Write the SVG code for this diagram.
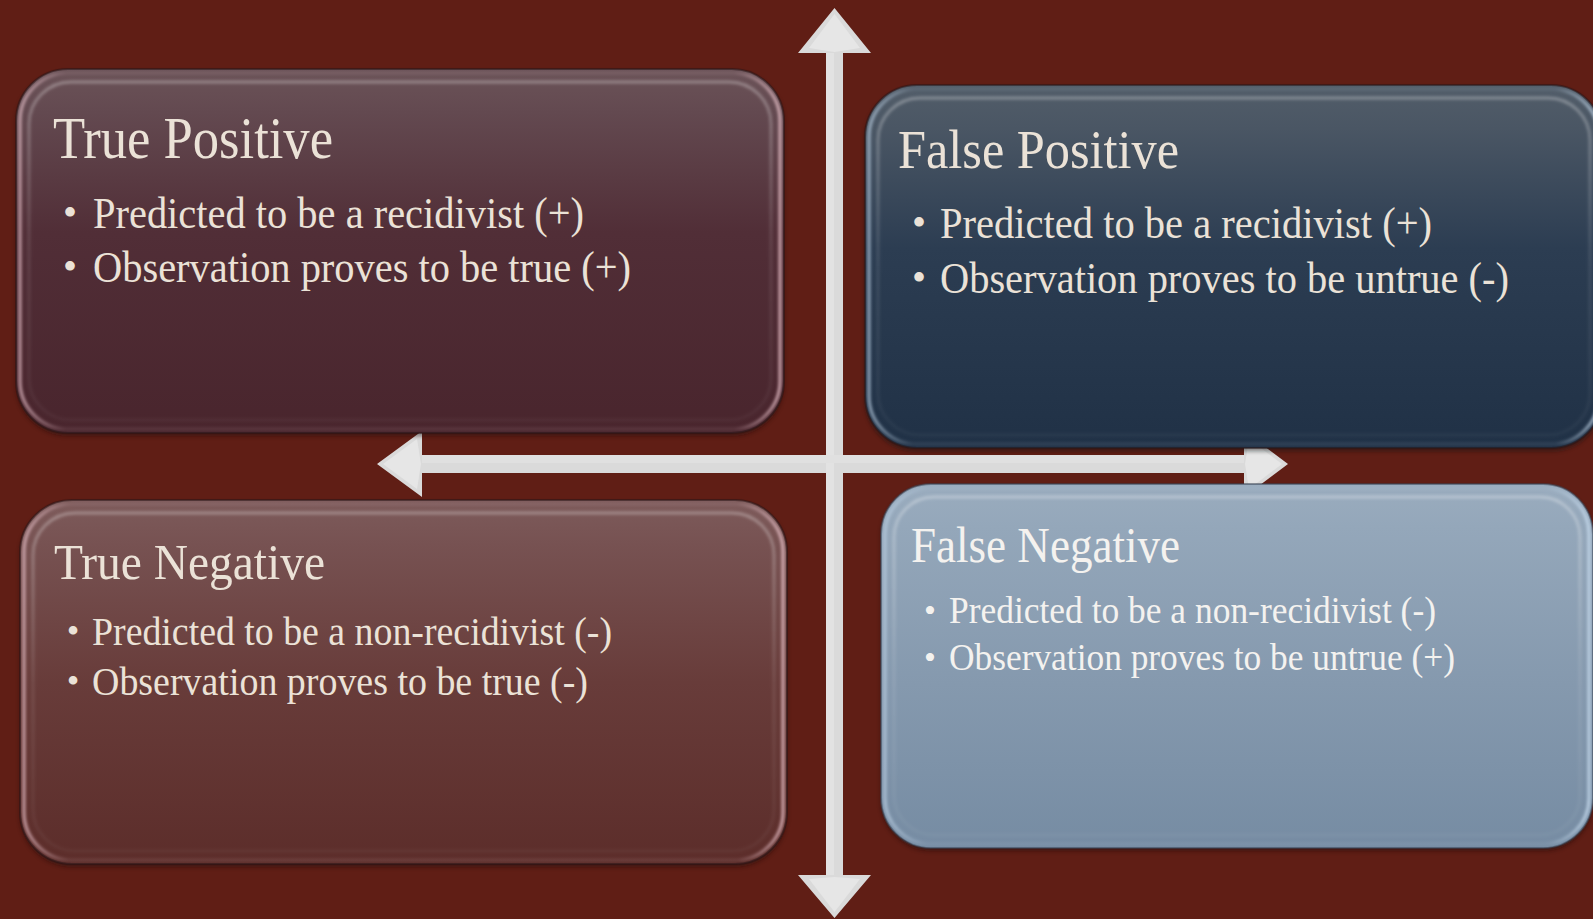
<svg xmlns="http://www.w3.org/2000/svg" width="1593" height="919" viewBox="0 0 1593 919">
<defs>
<style>
.ttl{font-family:"Liberation Serif","Times New Roman",serif;}
.txt{font-family:"Liberation Serif","Times New Roman",serif;}
.cream{fill:#ebe2d7;}
.white{fill:#f4f2ef;}
.edge{fill:none;stroke:#2a1518;stroke-opacity:0.55;stroke-width:2;}
.arrow{fill:#dadada;}
.bev{fill:#e6e6e6;}
</style>
<linearGradient id="gTP" x1="0" y1="0" x2="0" y2="1">
<stop offset="0" stop-color="#6b5358"/><stop offset="0.12" stop-color="#634950"/><stop offset="0.45" stop-color="#512e37"/><stop offset="1" stop-color="#49252d"/>
</linearGradient>
<linearGradient id="gFP" x1="0" y1="0" x2="0" y2="1">
<stop offset="0" stop-color="#525d69"/><stop offset="0.12" stop-color="#4a5664"/><stop offset="0.45" stop-color="#2c3d52"/><stop offset="1" stop-color="#203146"/>
</linearGradient>
<linearGradient id="gTN" x1="0" y1="0" x2="0" y2="1">
<stop offset="0" stop-color="#7d5b5b"/><stop offset="0.12" stop-color="#775252"/><stop offset="0.5" stop-color="#683c3a"/><stop offset="1" stop-color="#5c2d2a"/>
</linearGradient>
<linearGradient id="gFN" x1="0" y1="0" x2="0" y2="1">
<stop offset="0" stop-color="#9aacbe"/><stop offset="0.12" stop-color="#94a7ba"/><stop offset="0.55" stop-color="#8599ae"/><stop offset="1" stop-color="#768ca3"/>
</linearGradient>
<linearGradient id="rimWarm" x1="0" y1="0" x2="1" y2="0">
<stop offset="0" stop-color="#e8c2cb" stop-opacity="0.75"/><stop offset="0.06" stop-color="#e8c2cb" stop-opacity="0.12"/><stop offset="0.94" stop-color="#e8c2cb" stop-opacity="0.12"/><stop offset="1" stop-color="#f0c8d0" stop-opacity="0.8"/>
</linearGradient>
<linearGradient id="rimCool" x1="0" y1="0" x2="1" y2="0">
<stop offset="0" stop-color="#b9cde0" stop-opacity="0.75"/><stop offset="0.06" stop-color="#b9cde0" stop-opacity="0.12"/><stop offset="0.94" stop-color="#b9cde0" stop-opacity="0.12"/><stop offset="1" stop-color="#c8dcef" stop-opacity="0.85"/>
</linearGradient>
<linearGradient id="hiV" x1="0" y1="0" x2="0" y2="1">
<stop offset="0" stop-color="#ffffff" stop-opacity="0.3"/><stop offset="0.5" stop-color="#ffffff" stop-opacity="0.1"/><stop offset="1" stop-color="#ffffff" stop-opacity="0.04"/>
</linearGradient>
<filter id="soft" x="-5%" y="-5%" width="110%" height="110%"><feGaussianBlur stdDeviation="1.6"/></filter>
<filter id="shadow" x="-5%" y="-5%" width="110%" height="115%"><feGaussianBlur stdDeviation="2"/></filter>
</defs>
<rect x="0" y="0" width="1593" height="919" fill="#601e15"/>

<g id="connectors">
<polygon class="arrow" points="377,464 422,431 422,455 1244,455 1244,431 1288,464 1244,497 1244,473 422,473 422,497"/>
<polygon class="arrow" points="834.5,8 871,53 843,53 843,875 871,875 834.5,918 798,875 826,875 826,53 798,53"/>
<polygon class="bev" points="834.5,14 860,48 834.5,52 809,48"/>
<polygon class="bev" points="834.5,912 860,879 834.5,877 809,879"/>
<polygon class="bev" points="383,464 417,439 421,464 417,489"/>
<polygon class="bev" points="1282,464 1249,439 1245,464 1249,489"/>
<rect x="826" y="53" width="8" height="822" fill="#e2e2e2"/>
<rect x="422" y="455" width="822" height="8" fill="#e0e0e0"/>
</g>

<g id="true-positive">
<rect x="16" y="72" width="768" height="364" rx="52" fill="#1e0c0e" opacity="0.5" filter="url(#shadow)"/>
<rect x="16" y="69" width="768" height="364" rx="52" fill="url(#gTP)"/>
<rect x="20" y="73" width="760" height="356" rx="48" fill="none" stroke="url(#rimWarm)" stroke-width="3" filter="url(#soft)"/>
<rect x="29" y="82" width="742" height="338" rx="42" fill="none" stroke="url(#hiV)" stroke-width="3" filter="url(#soft)"/>
<rect class="edge" x="16" y="69" width="768" height="364" rx="52"/>
<text class="ttl cream" x="53" y="158" font-size="59" textLength="280" lengthAdjust="spacingAndGlyphs">True Positive</text>
<text class="txt cream" x="70" y="226" font-size="40" text-anchor="middle">•</text>
<text class="txt cream" x="93" y="228" font-size="44" textLength="491" lengthAdjust="spacingAndGlyphs">Predicted to be a recidivist (+)</text>
<text class="txt cream" x="70" y="280" font-size="40" text-anchor="middle">•</text>
<text class="txt cream" x="93" y="282" font-size="44" textLength="538" lengthAdjust="spacingAndGlyphs">Observation proves to be true (+)</text>
</g>

<g id="false-positive">
<rect x="865" y="88" width="738" height="363" rx="52" fill="#0c1218" opacity="0.5" filter="url(#shadow)"/>
<rect x="865" y="85" width="738" height="363" rx="52" fill="url(#gFP)"/>
<rect x="869" y="89" width="730" height="355" rx="48" fill="none" stroke="url(#rimCool)" stroke-width="3" filter="url(#soft)"/>
<rect x="878" y="98" width="712" height="337" rx="42" fill="none" stroke="url(#hiV)" stroke-width="3" filter="url(#soft)"/>
<rect class="edge" x="865" y="85" width="738" height="363" rx="52"/>
<text class="ttl cream" x="898" y="168" font-size="55" textLength="281" lengthAdjust="spacingAndGlyphs">False Positive</text>
<text class="txt cream" x="919" y="236" font-size="40" text-anchor="middle">•</text>
<text class="txt cream" x="940" y="238" font-size="45" textLength="492" lengthAdjust="spacingAndGlyphs">Predicted to be a recidivist (+)</text>
<text class="txt cream" x="919" y="291" font-size="40" text-anchor="middle">•</text>
<text class="txt cream" x="940" y="293" font-size="45" textLength="569" lengthAdjust="spacingAndGlyphs">Observation proves to be untrue (-)</text>
</g>

<g id="true-negative">
<rect x="20" y="503" width="767" height="364" rx="52" fill="#1e0c0a" opacity="0.5" filter="url(#shadow)"/>
<rect x="20" y="500" width="767" height="364" rx="52" fill="url(#gTN)"/>
<rect x="24" y="504" width="759" height="356" rx="48" fill="none" stroke="url(#rimWarm)" stroke-width="3" filter="url(#soft)"/>
<rect x="33" y="513" width="741" height="338" rx="42" fill="none" stroke="url(#hiV)" stroke-width="3" filter="url(#soft)"/>
<rect class="edge" x="20" y="500" width="767" height="364" rx="52"/>
<text class="ttl cream" x="54" y="579" font-size="51" textLength="271" lengthAdjust="spacingAndGlyphs">True Negative</text>
<text class="txt cream" x="73" y="643" font-size="36" text-anchor="middle">•</text>
<text class="txt cream" x="92" y="645" font-size="41" textLength="520" lengthAdjust="spacingAndGlyphs">Predicted to be a non-recidivist (-)</text>
<text class="txt cream" x="73" y="693" font-size="36" text-anchor="middle">•</text>
<text class="txt cream" x="92" y="695" font-size="41" textLength="496" lengthAdjust="spacingAndGlyphs">Observation proves to be true (-)</text>
</g>

<g id="false-negative">
<rect x="881" y="487" width="712" height="364" rx="50" fill="#1a0c0a" opacity="0.5" filter="url(#shadow)"/>
<rect x="881" y="484" width="712" height="364" rx="50" fill="url(#gFN)"/>
<rect x="885" y="488" width="704" height="356" rx="46" fill="none" stroke="url(#rimCool)" stroke-width="3" filter="url(#soft)"/>
<rect x="894" y="497" width="686" height="338" rx="40" fill="none" stroke="url(#hiV)" stroke-width="3" filter="url(#soft)"/>
<rect class="edge" x="881" y="484" width="712" height="364" rx="50" style="stroke:#3a4656"/>
<text class="ttl white" x="911" y="562" font-size="51" textLength="269" lengthAdjust="spacingAndGlyphs">False Negative</text>
<text class="txt white" x="930" y="622" font-size="34" text-anchor="middle">•</text>
<text class="txt white" x="949" y="623" font-size="38" textLength="487" lengthAdjust="spacingAndGlyphs">Predicted to be a non-recidivist (-)</text>
<text class="txt white" x="930" y="669" font-size="34" text-anchor="middle">•</text>
<text class="txt white" x="949" y="670" font-size="38" textLength="506" lengthAdjust="spacingAndGlyphs">Observation proves to be untrue (+)</text>
</g>
</svg>
